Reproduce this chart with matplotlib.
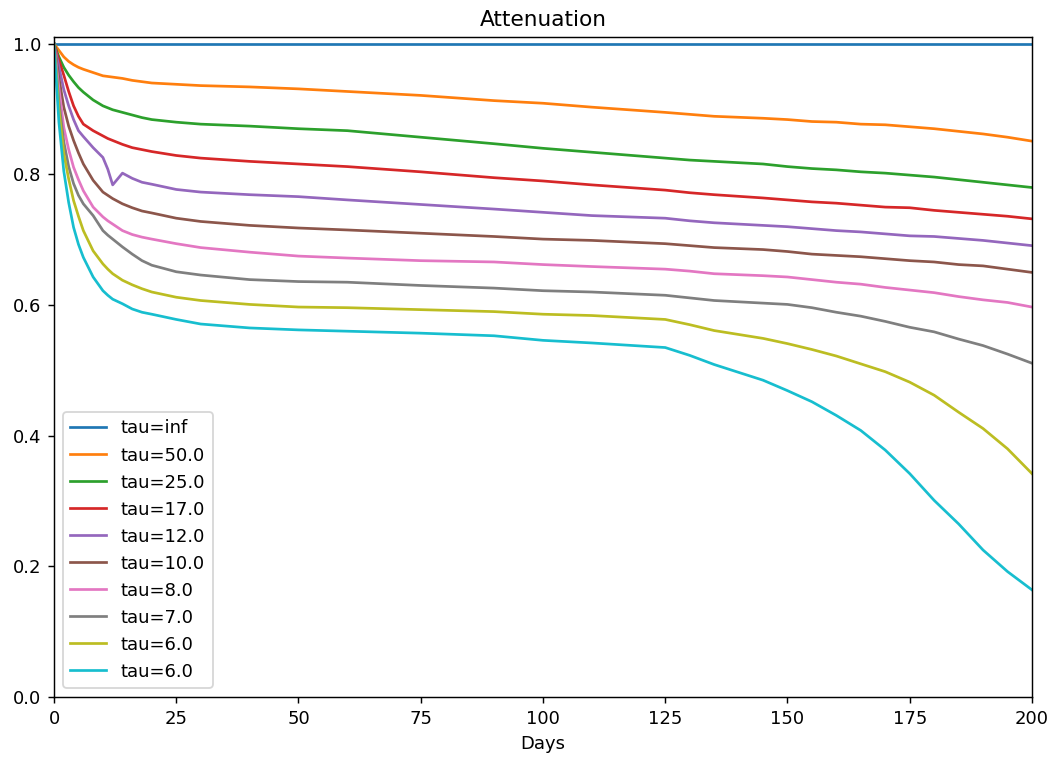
import matplotlib
matplotlib.use('Agg')
import matplotlib.pyplot as plt

days = [0, 1, 2, 3, 4, 5, 6, 8, 10, 11, 12, 14, 16, 18, 20, 25, 30, 40, 50, 60,
        75, 90, 100, 110, 125, 130, 135, 145, 150, 155, 160, 165, 170, 175, 180,
        185, 190, 195, 200]

labels = ['tau=inf', 'tau=50.0', 'tau=25.0', 'tau=17.0', 'tau=12.0', 'tau=10.0',
          'tau=8.0', 'tau=7.0', 'tau=6.0', 'tau=6.0']

att_inf = [1.0] * len(days)
att_50 = [1.0, 0.990, 0.980, 0.973, 0.968, 0.964, 0.961, 0.956, 0.951, 0.950, 0.949,
          0.947, 0.944, 0.942, 0.940, 0.938, 0.936, 0.934, 0.931, 0.927, 0.921, 0.913,
          0.909, 0.903, 0.895, 0.892, 0.889, 0.886, 0.884, 0.881, 0.880, 0.877, 0.876,
          0.873, 0.870, 0.866, 0.862, 0.857, 0.851]
att_25 = [1.0, 0.980, 0.964, 0.952, 0.942, 0.933, 0.926, 0.914, 0.905, 0.902, 0.899,
          0.895, 0.891, 0.887, 0.884, 0.880, 0.877, 0.874, 0.870, 0.867, 0.857, 0.847,
          0.840, 0.834, 0.825, 0.822, 0.820, 0.816, 0.812, 0.809, 0.807, 0.804, 0.802,
          0.799, 0.796, 0.792, 0.788, 0.784, 0.780]
att_17 = [1.0, 0.975, 0.952, 0.927, 0.905, 0.889, 0.877, 0.867, 0.859, 0.855, 0.852,
          0.846, 0.841, 0.838, 0.835, 0.829, 0.825, 0.820, 0.816, 0.812, 0.804, 0.795,
          0.790, 0.784, 0.776, 0.772, 0.769, 0.764, 0.761, 0.758, 0.756, 0.753, 0.750,
          0.749, 0.745, 0.742, 0.739, 0.736, 0.732]
att_12 = [1.0, 0.965, 0.930, 0.905, 0.884, 0.867, 0.858, 0.841, 0.826, 0.808, 0.784,
          0.802, 0.794, 0.788, 0.785, 0.777, 0.773, 0.769, 0.766, 0.761, 0.754, 0.747,
          0.742, 0.737, 0.733, 0.729, 0.726, 0.722, 0.720, 0.717, 0.714, 0.712, 0.709,
          0.706, 0.705, 0.702, 0.699, 0.695, 0.691]
att_10 = [1.0, 0.948, 0.903, 0.874, 0.852, 0.833, 0.816, 0.791, 0.773, 0.768, 0.763,
          0.755, 0.749, 0.744, 0.741, 0.733, 0.728, 0.722, 0.718, 0.715, 0.710, 0.705,
          0.701, 0.699, 0.694, 0.691, 0.688, 0.685, 0.682, 0.678, 0.676, 0.674, 0.671,
          0.668, 0.666, 0.662, 0.660, 0.655, 0.650]
att_8 = [1.0, 0.932, 0.872, 0.838, 0.811, 0.792, 0.775, 0.750, 0.735, 0.729, 0.724,
         0.714, 0.708, 0.704, 0.701, 0.694, 0.688, 0.681, 0.675, 0.672, 0.668, 0.666,
         0.662, 0.659, 0.655, 0.652, 0.648, 0.645, 0.643, 0.639, 0.635, 0.632, 0.627,
         0.623, 0.619, 0.613, 0.608, 0.604, 0.597]
att_7 = [1.0, 0.912, 0.850, 0.812, 0.786, 0.768, 0.755, 0.737, 0.714, 0.707, 0.701,
         0.689, 0.678, 0.668, 0.661, 0.651, 0.646, 0.639, 0.636, 0.635, 0.630, 0.626,
         0.622, 0.620, 0.615, 0.611, 0.607, 0.603, 0.601, 0.596, 0.589, 0.583, 0.575,
         0.566, 0.559, 0.548, 0.538, 0.525, 0.511]
att_6a = [1.0, 0.900, 0.832, 0.793, 0.760, 0.736, 0.714, 0.683, 0.663, 0.655, 0.648,
          0.638, 0.631, 0.625, 0.620, 0.612, 0.607, 0.601, 0.597, 0.596, 0.593, 0.590,
          0.586, 0.584, 0.578, 0.570, 0.561, 0.549, 0.541, 0.532, 0.522, 0.510, 0.498,
          0.482, 0.462, 0.436, 0.411, 0.380, 0.342]
att_6b = [1.0, 0.880, 0.805, 0.757, 0.719, 0.693, 0.673, 0.643, 0.622, 0.615, 0.609,
          0.602, 0.594, 0.589, 0.586, 0.578, 0.571, 0.565, 0.562, 0.560, 0.557, 0.553,
          0.546, 0.542, 0.535, 0.523, 0.509, 0.485, 0.469, 0.452, 0.431, 0.408, 0.378,
          0.342, 0.301, 0.265, 0.225, 0.192, 0.164]

curves = [att_inf, att_50, att_25, att_17, att_12, att_10, att_8, att_7, att_6a, att_6b]

dpi = 130
plt.figure(figsize=(1057 / dpi, 759 / dpi), dpi=dpi)
plt.subplots_adjust(left=0.0511, right=0.9763, bottom=0.0817, top=0.9509)

for curve, lab in zip(curves, labels):
    plt.plot(days, curve, label=lab)

plt.legend(loc='lower left')
plt.xlim(0, 200)
plt.ylim(0, 1.01)
plt.title('Attenuation')
plt.xlabel('Days')
plt.savefig('out.png', dpi=dpi)
